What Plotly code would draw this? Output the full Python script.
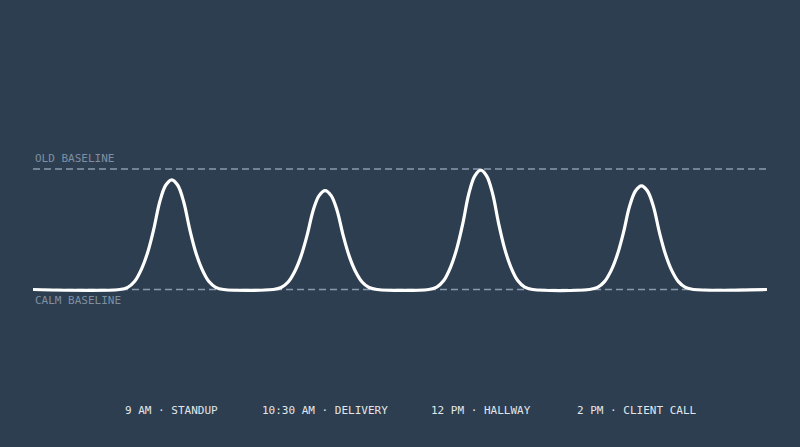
import plotly.graph_objects as go

# ---- data ----
# timeline position (0-100) and stress level (0 = calm baseline, 1 = old baseline)
time_pos = [0,
            11.82, 12.91, 13.86, 14.81, 15.63, 16.45, 17.27, 18.08, 18.9, 19.72, 20.53, 21.35, 22.17, 22.99, 23.94, 24.89, 25.98,
            32.72, 33.81, 34.76, 35.71, 36.53, 37.35, 38.17, 38.98, 39.8, 40.62, 41.43, 42.25, 43.07, 43.89, 44.84, 45.79, 46.88,
            53.92, 55.01, 55.96, 56.91, 57.73, 58.55, 59.37, 60.18, 61.0, 61.82, 62.63, 63.45, 64.27, 65.09, 66.04, 66.99, 68.08,
            75.82, 76.91, 77.86, 78.81, 79.63, 80.45, 81.27, 82.08, 82.9, 83.72, 84.53, 85.35, 86.17, 86.99, 87.94, 88.89, 89.98,
            100]
stress_level = [0,
                0, 0.018, 0.068, 0.173, 0.309, 0.5, 0.728, 0.865, 0.91, 0.865, 0.728, 0.5, 0.309, 0.173, 0.068, 0.018, 0,
                0, 0.016, 0.062, 0.156, 0.279, 0.451, 0.656, 0.779, 0.82, 0.779, 0.656, 0.451, 0.279, 0.156, 0.062, 0.016, 0,
                0, 0.020, 0.074, 0.188, 0.337, 0.545, 0.792, 0.941, 0.99, 0.941, 0.792, 0.545, 0.337, 0.188, 0.074, 0.020, 0,
                0, 0.017, 0.065, 0.163, 0.292, 0.473, 0.688, 0.817, 0.86, 0.817, 0.688, 0.473, 0.292, 0.163, 0.065, 0.017, 0,
                0]

baseline_names = ["OLD BASELINE", "CALM BASELINE"]
baseline_levels = [1, 0]
line_span = [0, 100]

event_pos = [18.9, 39.8, 61.0, 82.3]
event_labels = ["9 AM · STANDUP", "10:30 AM · DELIVERY", "12 PM · HALLWAY", "2 PM · CLIENT CALL"]

# ---- style ----
BG = "#2d3e50"
DASH = "#8a9aad"
MUTED = "#7f8fa2"
LABEL = "#e2e6ea"
FONT = "DejaVu Sans Mono"

fig = go.Figure()

for lvl in baseline_levels:
    fig.add_trace(go.Scatter(
        x=line_span, y=[lvl, lvl], mode="lines",
        line=dict(color=DASH, width=1.6, dash="7px,4px"),
        hoverinfo="skip", showlegend=False,
    ))

fig.add_trace(go.Scatter(
    x=time_pos, y=stress_level, mode="lines",
    line=dict(color="#ffffff", width=3.2, shape="spline", smoothing=1.0),
    hoverinfo="skip", showlegend=False,
))

annotations = []
for name, lvl in zip(baseline_names, baseline_levels):
    annotations.append(dict(
        x=line_span[0], y=lvl, xref="x", yref="y", text=name, showarrow=False,
        xanchor="left", yanchor="middle", yshift=10.5 if lvl == 1 else -11,
        font=dict(family=FONT, size=11, color=MUTED),
    ))
for pos, lab in zip(event_pos, event_labels):
    annotations.append(dict(
        x=pos, y=-1.0, xref="x", yref="y", text=lab, showarrow=False,
        xanchor="center", yanchor="middle",
        font=dict(family=FONT, size=11, color=LABEL),
    ))

fig.update_layout(
    width=800, height=447,
    margin=dict(l=0, r=0, t=0, b=0),
    paper_bgcolor=BG, plot_bgcolor=BG,
    xaxis=dict(range=[-4.496, 104.5], visible=False, fixedrange=True),
    yaxis=dict(range=[-1.307, 2.402], visible=False, fixedrange=True),
    annotations=annotations,
    showlegend=False,
)

fig.write_html(
    "out.html",
    config={"displayModeBar": False},
    post_script="document.body.style.margin='0';document.body.style.background='#2d3e50';",
)
